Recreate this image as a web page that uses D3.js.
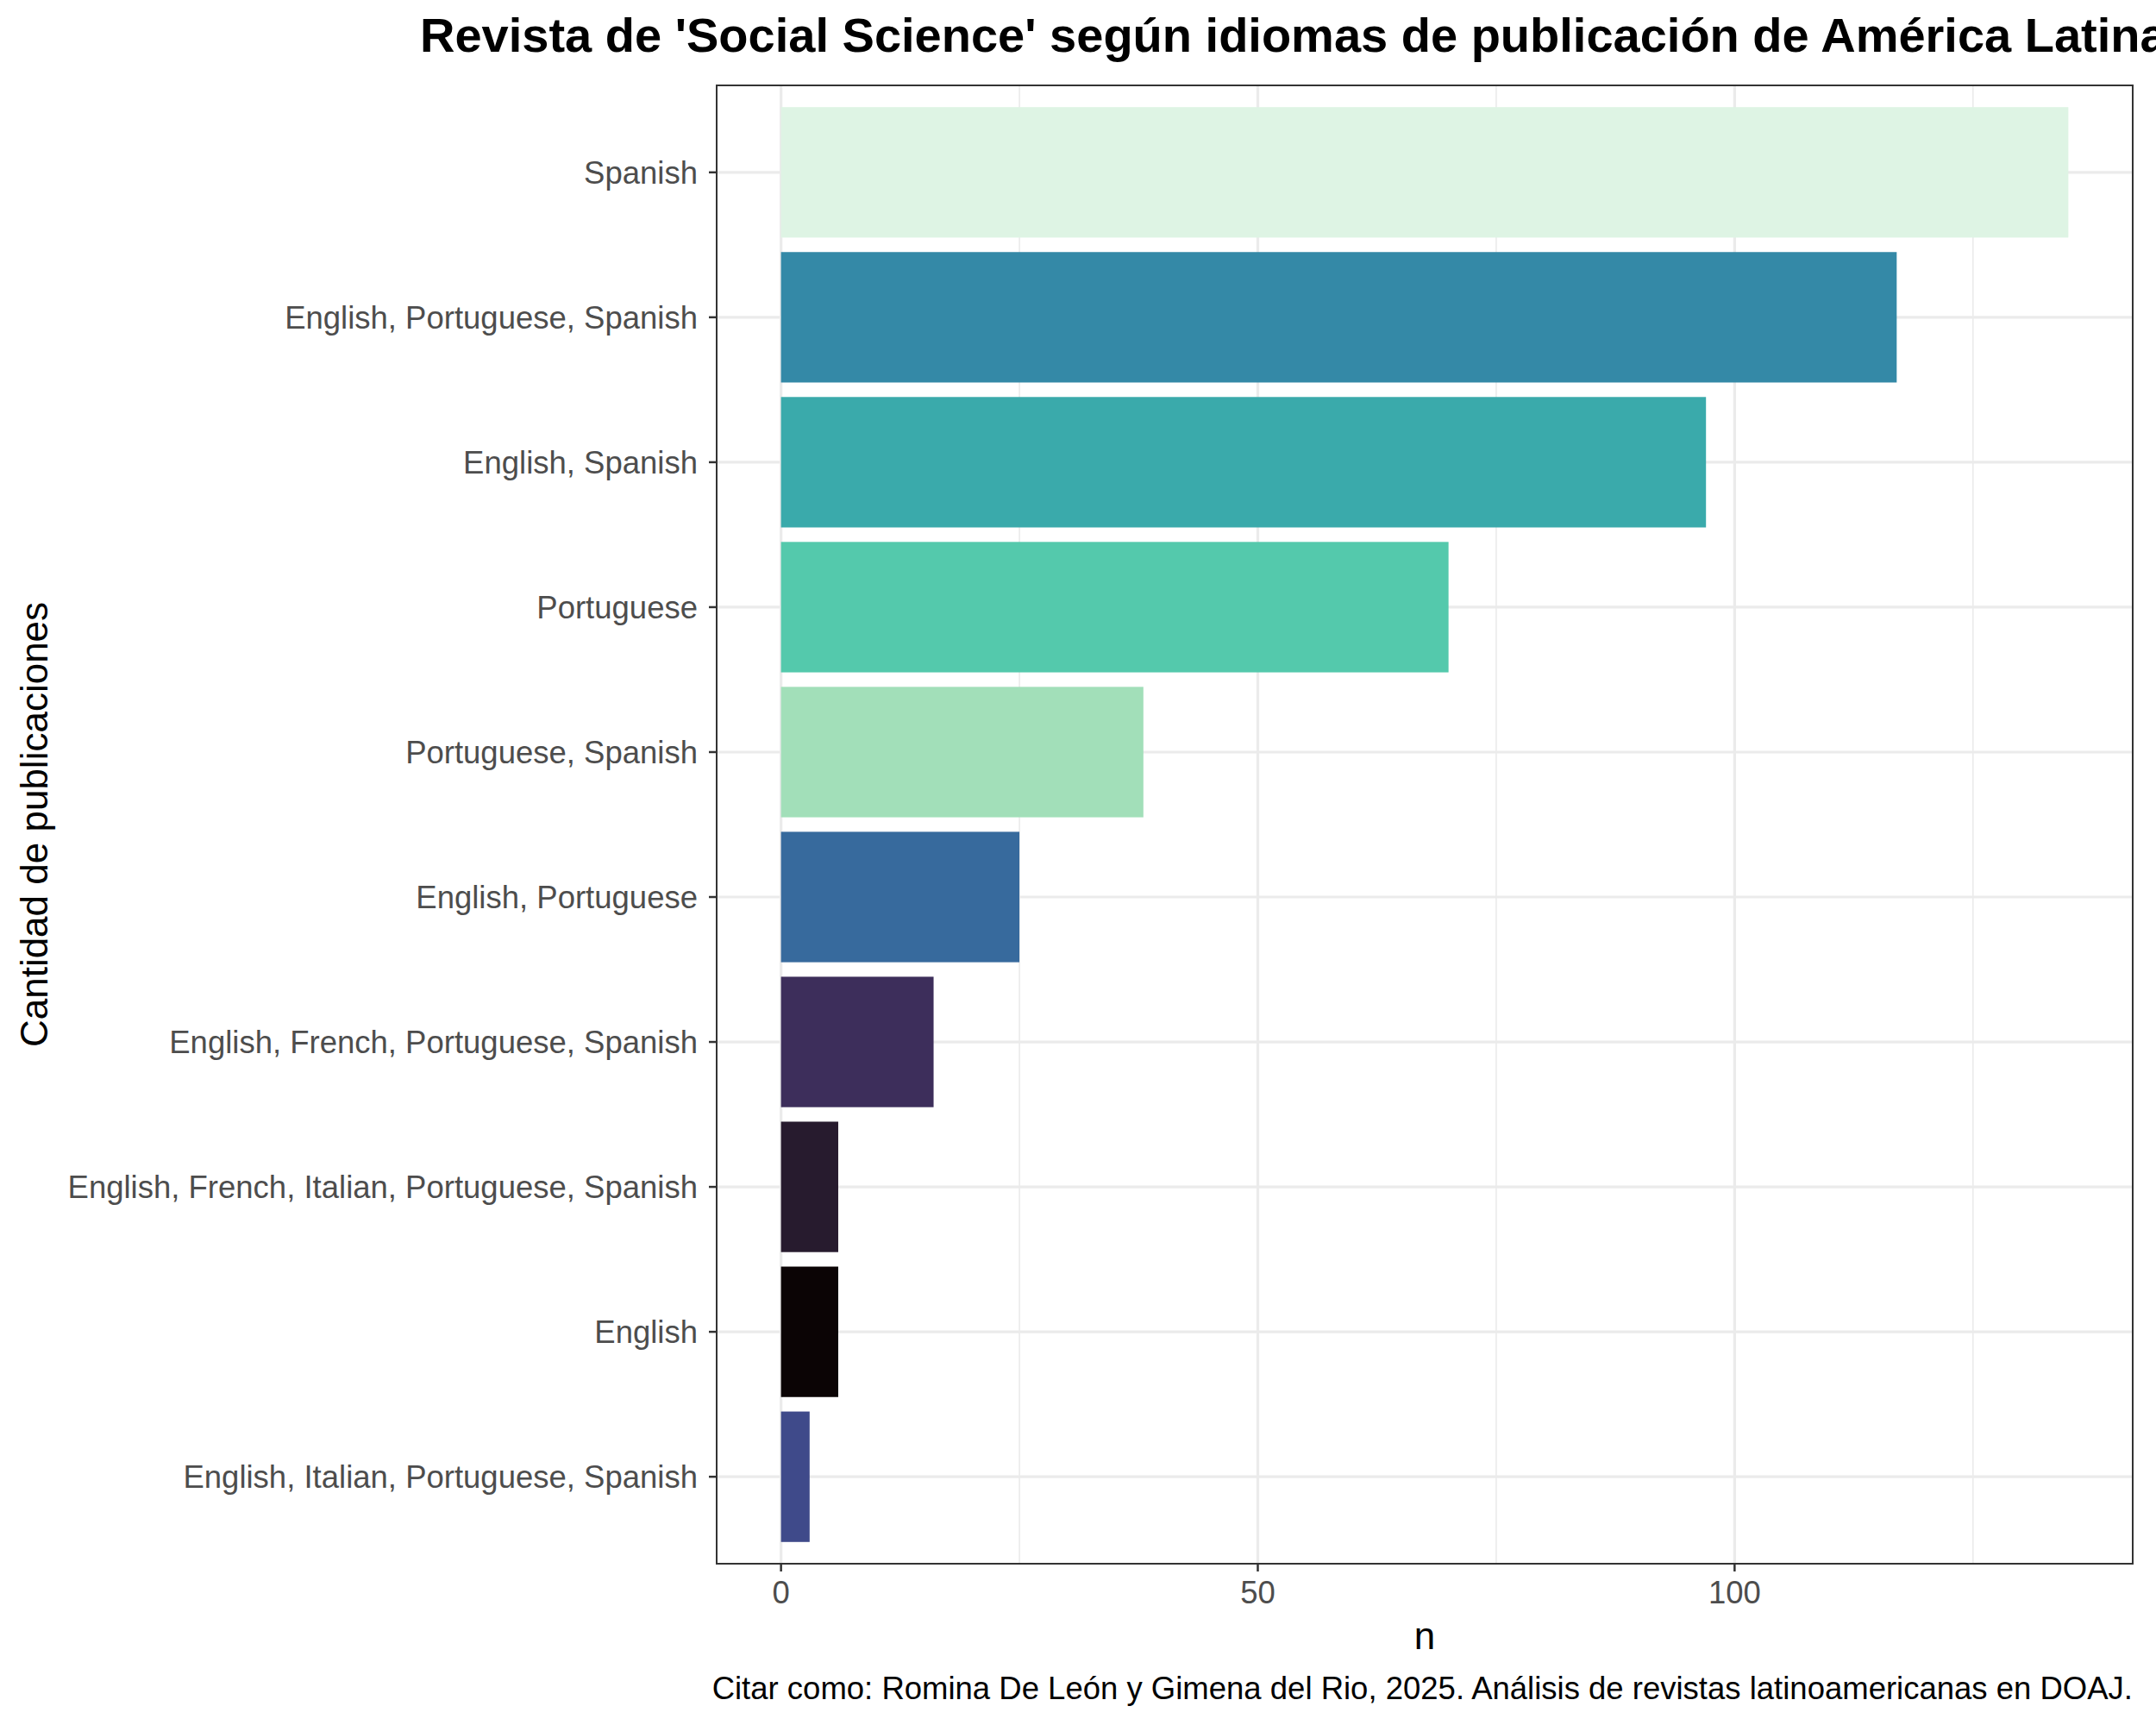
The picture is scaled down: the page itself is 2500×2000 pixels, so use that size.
<!DOCTYPE html>
<html><head><meta charset="utf-8">
<script src="https://cdn.jsdelivr.net/npm/d3@7"></script>
<style>body{margin:0;background:#fff}text{font-family:"Liberation Sans",Arial,sans-serif}</style>
</head><body><div id="chart"></div>
<script>
var categories = ["Spanish","English, Portuguese, Spanish","English, Spanish","Portuguese","Portuguese, Spanish","English, Portuguese","English, French, Portuguese, Spanish","English, French, Italian, Portuguese, Spanish","English","English, Italian, Portuguese, Spanish"];
var values = [135,117,97,70,38,25,16,6,6,3];
var colors = ["#def4e4","#3489a7","#3aaaab","#54c9ac","#a2dfb9","#376a9d","#3d2e5b","#271b2e","#0b0405","#3f4a8a"];
var xTicks = [0,50,100];
var xMinor = [25,75,125];

var W = 2500, H = 2000;
var m = {left: 831, right: 2473, top: 99, bottom: 1813};
var svg = d3.select("#chart").append("svg").attr("width", W).attr("height", H);

var maxV = d3.max(values);
var x = d3.scaleLinear().domain([-0.05*maxV, maxV*1.05]).range([m.left, m.right]);
var n = categories.length;
// discrete axis with 0.6 expansion each side
var y = d3.scaleLinear().domain([0.4, n + 0.6]).range([m.top, m.bottom]);
var bw = 0.9 * (y(2) - y(1));

var g = svg.append("g");
g.selectAll(".minor").data(xMinor).enter().append("line")
    .attr("x1", d => x(d)).attr("x2", d => x(d)).attr("y1", m.top).attr("y2", m.bottom)
    .attr("stroke", "#ebebeb").attr("stroke-width", 1.6);
g.selectAll(".majx").data(xTicks).enter().append("line")
    .attr("x1", d => x(d)).attr("x2", d => x(d)).attr("y1", m.top).attr("y2", m.bottom)
    .attr("stroke", "#ebebeb").attr("stroke-width", 3.2);
g.selectAll(".majy").data(categories).enter().append("line")
    .attr("x1", m.left).attr("x2", m.right)
    .attr("y1", (d, i) => y(i + 1)).attr("y2", (d, i) => y(i + 1))
    .attr("stroke", "#ebebeb").attr("stroke-width", 3.2);

g.selectAll(".bar").data(values).enter().append("rect")
    .attr("x", x(0)).attr("width", d => x(d) - x(0))
    .attr("y", (d, i) => y(i + 1) - bw / 2).attr("height", bw)
    .attr("fill", (d, i) => colors[i]);

g.append("rect").attr("x", m.left).attr("y", m.top)
    .attr("width", m.right - m.left).attr("height", m.bottom - m.top)
    .attr("fill", "none").attr("stroke", "#333").attr("stroke-width", 2);

// y ticks + labels
categories.forEach(function (c, i) {
    var yy = y(i + 1);
    g.append("line").attr("x1", m.left - 9).attr("x2", m.left).attr("y1", yy).attr("y2", yy)
        .attr("stroke", "#333").attr("stroke-width", 2.5);
    g.append("text").attr("x", m.left - 22).attr("y", yy).attr("dy", "0.35em")
        .attr("text-anchor", "end").attr("fill", "#4d4d4d").attr("font-size", 36.5).text(c);
});
// x ticks + labels
xTicks.forEach(function (t) {
    g.append("line").attr("x1", x(t)).attr("x2", x(t)).attr("y1", m.bottom).attr("y2", m.bottom + 9)
        .attr("stroke", "#333").attr("stroke-width", 2.5);
    g.append("text").attr("x", x(t)).attr("y", m.bottom + 46)
        .attr("text-anchor", "middle").attr("fill", "#4d4d4d").attr("font-size", 36.5).text(t);
});

svg.append("text").attr("x", (m.left + m.right) / 2).attr("y", 1912)
    .attr("text-anchor", "middle").attr("font-size", 44).attr("fill", "#000").text("n");
svg.append("text").attr("transform", "translate(55," + ((m.top + m.bottom) / 2) + ") rotate(-90)")
    .attr("text-anchor", "middle").attr("font-size", 44).attr("fill", "#000").text("Cantidad de publicaciones");
svg.append("text").attr("x", 487).attr("y", 60)
    .attr("font-size", 56).attr("font-weight", "bold").attr("fill", "#000")
    .text("Revista de 'Social Science' según idiomas de publicación de América Latina");
svg.append("text").attr("x", m.right).attr("y", 1970)
    .attr("text-anchor", "end").attr("font-size", 36.5).attr("fill", "#000")
    .text("Citar como: Romina De León y Gimena del Rio, 2025. Análisis de revistas latinoamericanas en DOAJ.");
</script></body></html>
